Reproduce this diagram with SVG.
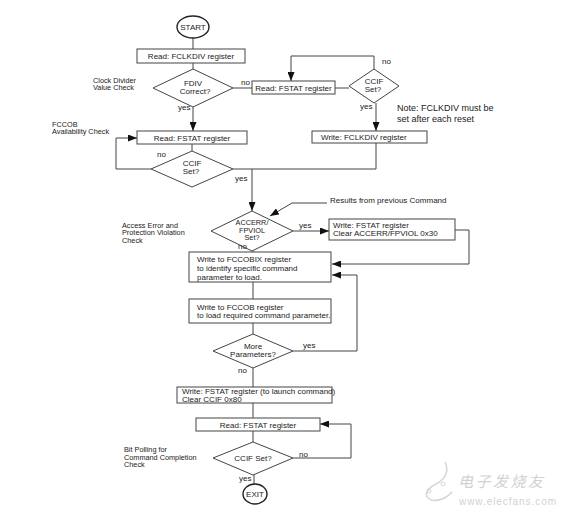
<svg xmlns="http://www.w3.org/2000/svg" width="565" height="513" viewBox="0 0 565 513">
<style>
.box{fill:#fff;stroke:#444;stroke-width:1}
.dia{fill:#fff;stroke:#444;stroke-width:1}
.term{fill:#fff;stroke:#222;stroke-width:1.4}
.ln{fill:none;stroke:#444;stroke-width:1}
.t{font-family:"Liberation Sans",Arial,sans-serif;font-size:8px;fill:#222}
.s{font-size:7.3px}
.c{text-anchor:middle}
.n{font-size:9px}
</style>
<defs>
<marker id="ah" markerWidth="9" markerHeight="7" refX="9" refY="3.5" orient="auto" markerUnits="userSpaceOnUse">
<path d="M0,0 L9,3.5 L0,7 Z" fill="#111"/>
</marker>
</defs>
<rect width="565" height="513" fill="#fff"/>

<g id="connectors">
<path class="ln" d="M193,38 V49"/>
<path class="ln" d="M193,63 V69"/>
<path class="ln" d="M233,88 H252"/>
<path class="ln" d="M335,88 H349"/>
<path class="ln" d="M374,69 V56 H291 V81" marker-end="url(#ah)"/>
<path class="ln" d="M376,103 V131" marker-end="url(#ah)"/>
<path class="ln" d="M193,107 V131" marker-end="url(#ah)"/>
<path class="ln" d="M192,144 V151"/>
<path class="ln" d="M151,169 H116 V138 H137" marker-end="url(#ah)"/>
<path class="ln" d="M233,169 H376 V143"/>
<path class="ln" d="M252,169 V211" marker-end="url(#ah)"/>
<path class="ln" d="M327,203 H292 L270,216" marker-end="url(#ah)"/>
<path class="ln" d="M293,231 H329" marker-end="url(#ah)"/>
<path class="ln" d="M455,230 H469 V264 H332" marker-end="url(#ah)"/>
<path class="ln" d="M253,251 V252"/>
<path class="ln" d="M253,282 V299"/>
<path class="ln" d="M253,323 V334"/>
<path class="ln" d="M293,351 H357 V275 H332" marker-end="url(#ah)"/>
<path class="ln" d="M253,368 V387"/>
<path class="ln" d="M253,403 V418"/>
<path class="ln" d="M253,431 V442"/>
<path class="ln" d="M293,458 H351 V424 H320" marker-end="url(#ah)"/>
<path class="ln" d="M254,475 V484"/>
</g>

<g id="start">
<ellipse class="term" cx="193" cy="27" rx="16" ry="11"/>
<text class="t c" x="193" y="30">START</text>
</g>
<g id="read-fclkdiv">
<rect class="box" x="137" y="49" width="108" height="14"/>
<text class="t c" x="191" y="59">Read: FCLKDIV register</text>
</g>
<g id="fdiv-correct">
<polygon class="dia" points="193,69 233,88 193,107 153,88"/>
<text class="t c" x="193" y="85.5">FDIV</text>
<text class="t c" x="195" y="93.5">Correct?</text>
</g>
<g id="read-fstat-1">
<rect class="box" x="252" y="81" width="83" height="13"/>
<text class="t c" x="293.5" y="90.5">Read: FSTAT register</text>
</g>
<g id="ccif-1">
<polygon class="dia" points="374,69 399,86 374,103 349,86"/>
<text class="t c" x="374" y="83.5">CCIF</text>
<text class="t c" x="373" y="91.5">Set?</text>
</g>
<g id="write-fclkdiv">
<rect class="box" x="312" y="131" width="115" height="12"/>
<text class="t" x="321" y="140">Write: FCLKDIV register</text>
</g>
<g id="read-fstat-2">
<rect class="box" x="137" y="131" width="110" height="13"/>
<text class="t c" x="192" y="140.5">Read: FSTAT register</text>
</g>
<g id="ccif-2">
<polygon class="dia" points="192,151 233,169 192,187 151,169"/>
<text class="t c" x="192" y="165.5">CCIF</text>
<text class="t c" x="191" y="173.5">Set?</text>
</g>
<g id="accerr">
<polygon class="dia" points="252,211 293,231 252,251 211,231"/>
<text class="t s c" x="252" y="225">ACCERR/</text>
<text class="t s c" x="252" y="232.5">FPVIOL</text>
<text class="t s c" x="252" y="240">Set?</text>
</g>
<g id="write-fstat-clear">
<rect class="box" x="329" y="219" width="126" height="21"/>
<text class="t" x="333" y="228">Write: FSTAT register</text>
<text class="t" x="333" y="236">Clear ACCERR/FPVIOL 0x30</text>
</g>
<g id="write-fccobix">
<rect class="box" x="189" y="252" width="142" height="30"/>
<text class="t" x="197" y="262">Write to FCCOBIX register</text>
<text class="t" x="197" y="271">to identify specific command</text>
<text class="t" x="197" y="280">parameter to load.</text>
</g>
<g id="write-fccob">
<rect class="box" x="189" y="299" width="142" height="24"/>
<text class="t" x="197" y="309.5">Write to FCCOB register</text>
<text class="t" x="197" y="318">to load required command parameter.</text>
</g>
<g id="more-params">
<polygon class="dia" points="253,334 293,351 253,368 213,351"/>
<text class="t c" x="253" y="348.5">More</text>
<text class="t c" x="253" y="357">Parameters?</text>
</g>
<g id="write-fstat-launch">
<rect class="box" x="177" y="387" width="155" height="16"/>
<text class="t" x="182" y="394">Write: FSTAT register (to launch command)</text>
<text class="t" x="182" y="401.5">Clear CCIF 0x80</text>
</g>
<g id="read-fstat-3">
<rect class="box" x="196" y="418" width="124" height="13"/>
<text class="t c" x="258" y="427.5">Read: FSTAT register</text>
</g>
<g id="ccif-3">
<polygon class="dia" points="253,442 293,458 253,475 213,458"/>
<text class="t c" x="253" y="461">CCIF Set?</text>
</g>
<g id="exit">
<ellipse class="term" cx="255" cy="494" rx="12" ry="10"/>
<text class="t c" x="255" y="497">EXIT</text>
</g>

<g id="labels">
<text class="t" x="241" y="85">no</text>
<text class="t" x="178" y="110">yes</text>
<text class="t" x="382" y="64">no</text>
<text class="t" x="360" y="109">yes</text>
<text class="t" x="157" y="157">no</text>
<text class="t" x="235" y="181">yes</text>
<text class="t" x="299" y="228">yes</text>
<text class="t" x="238" y="249">no</text>
<text class="t" x="303" y="348">yes</text>
<text class="t" x="238" y="373">no</text>
<text class="t" x="299" y="457">no</text>
<text class="t" x="239" y="481">yes</text>
<text class="t s" x="93" y="82.5">Clock Divider</text>
<text class="t s" x="93" y="90">Value Check</text>
<text class="t s" x="52" y="126.5">FCCOB</text>
<text class="t s" x="52" y="134">Availability Check</text>
<text class="t s" x="122" y="227.5">Access Error and</text>
<text class="t s" x="122" y="235">Protection Violation</text>
<text class="t s" x="122" y="242.5">Check</text>
<text class="t s" x="124" y="452">Bit Polling for</text>
<text class="t s" x="124" y="459.5">Command Completion</text>
<text class="t s" x="124" y="467">Check</text>
<text class="t" x="330" y="203">Results from previous Command</text>
<text class="t n" x="397" y="111">Note: FCLKDIV must be</text>
<text class="t n" x="397" y="122">set after each reset</text>
</g>

<g id="watermark">
<path d="M445,462 C450,472 444,480 436,484 C428,488 424,494 428,498 C433,503 445,500 452,492" fill="none" stroke="#d6d6d6" stroke-width="1.6"/>
<circle cx="429" cy="491" r="2" fill="none" stroke="#d6d6d6" stroke-width="1"/>
<circle cx="443" cy="484" r="2" fill="none" stroke="#d6d6d6" stroke-width="1"/>
<text x="458" y="487" font-family="'Noto Sans CJK SC',sans-serif" font-size="15" font-style="italic" fill="#d2d2d2" textLength="85">电子发烧友</text>
<text x="459" y="505" font-family="'Liberation Sans',Arial,sans-serif" font-size="10" fill="#d2d2d2" textLength="97">www.elecfans.com</text>
</g>
</svg>
